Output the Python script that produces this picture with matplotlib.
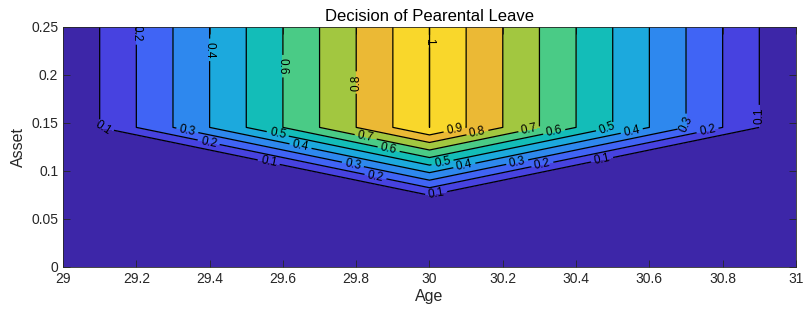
import matplotlib
matplotlib.use("Agg")
import matplotlib.pyplot as plt
import numpy as np

plt.rcParams["font.family"] = ["Liberation Sans", "DejaVu Sans"]

# grid: tent in age above the asset kink, zero below
age = [29.0, 30.0, 31.0]
asset = [0.0, 0.0668, 0.1453, 0.25]
leave_row_low = [0.0, 0.0, 0.0]
leave_row_high = [0.0, 1.0, 0.0]
decision = [leave_row_low, leave_row_low, leave_row_high, leave_row_high]

levels = np.round(np.arange(0.0, 1.01, 0.1), 1)
band_colors = ["#3d26a8", "#4742e0", "#4064f5", "#2e88ee", "#1ca9dd",
               "#13bdb8", "#4acb86", "#a2c740", "#ebb935", "#f9d72b"]

xticks = [29, 29.2, 29.4, 29.6, 29.8, 30, 30.2, 30.4, 30.6, 30.8, 31]
yticks = [0, 0.05, 0.1, 0.15, 0.2, 0.25]

# where the contour labels sit (age, asset)
label_spots = [
    (29.2, 0.243), (29.4, 0.226), (29.6, 0.209), (29.8, 0.192),
    (30.0, 0.235), (30.9, 0.157),
    (29.109, 0.145), (29.338, 0.140), (29.396, 0.127), (29.584, 0.135),
    (29.647, 0.124), (29.824, 0.132), (29.887, 0.120),
    (29.559, 0.105), (29.789, 0.103), (29.851, 0.091),
    (30.070, 0.140), (30.132, 0.1375), (30.274, 0.1406), (30.342, 0.1375),
    (30.484, 0.1448), (30.553, 0.1396), (30.692, 0.148), (30.760, 0.1396),
    (30.037, 0.106), (30.097, 0.102), (30.241, 0.106), (30.31, 0.103),
    (30.473, 0.108), (30.020, 0.073),
]

X, Y = np.meshgrid(age, asset)
Z = np.array(decision)

fig = plt.figure(figsize=(8.04, 3.15), dpi=100)
ax = fig.add_axes([0.0784, 0.1524, 0.9116, 0.7626])

ax.contourf(X, Y, Z, levels=levels, colors=band_colors)
line_levels = list(levels[1:-1]) + [0.9999]
cs = ax.contour(X, Y, Z, levels=line_levels, colors="k", linewidths=0.9)
ax.clabel(cs, fmt=lambda v: f"{round(v, 1):g}", fontsize=8.5,
          manual=label_spots, inline=True, inline_spacing=3)

ax.set_xlim(29, 31)
ax.set_ylim(0, 0.25)
ax.set_xticks(xticks)
ax.set_yticks(yticks)
ax.set_xticklabels([f"{t:g}" for t in xticks])
ax.set_yticklabels([f"{t:g}" for t in yticks])
ax.tick_params(direction="in", length=5, width=0.6, colors="#262626",
               labelsize=10, top=True, right=True)
for s in ax.spines.values():
    s.set_color("#262626")
    s.set_linewidth(0.6)
ax.set_xlabel("Age", fontsize=11.5, color="#262626", labelpad=2)
ax.set_ylabel("Asset", fontsize=11.5, color="#262626", labelpad=4)
ax.set_title("Decision of Pearental Leave", fontsize=12, pad=4)

fig.savefig("out.png", dpi=100)
